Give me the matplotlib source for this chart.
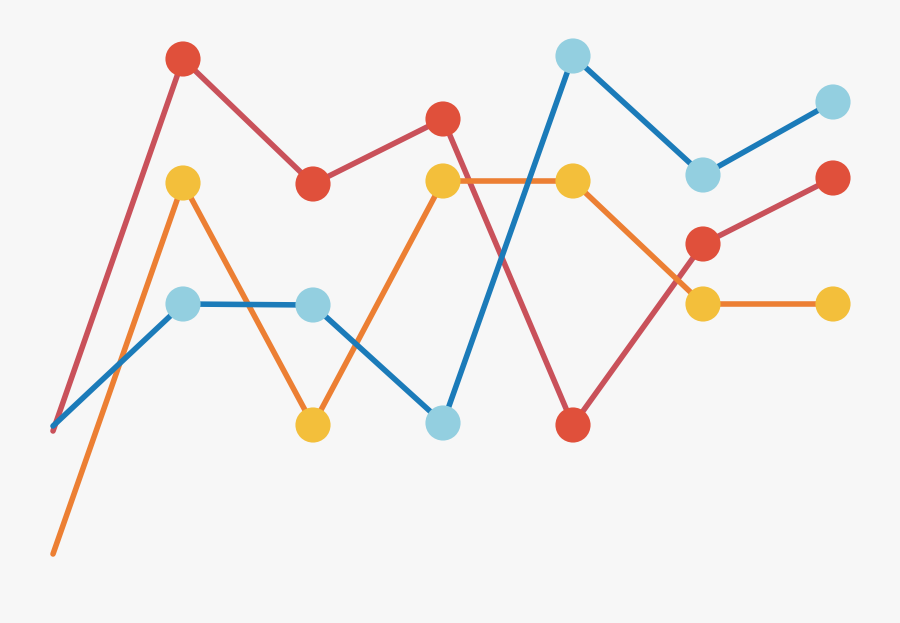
import matplotlib
matplotlib.use("Agg")
import matplotlib.pyplot as plt

# data
steps = [0, 1, 2, 3, 4, 5, 6]
red_vals = [192, 564, 439, 504, 198, 379, 445]
orange_vals = [69, 440, 198, 442, 442, 319, 319]
blue_vals = [197, 319, 318, 200, 567, 448, 521]

series = [
    (red_vals, "#c9515a", "#e0503b"),
    (orange_vals, "#ec7f33", "#f3bf3b"),
    (blue_vals, "#1b7bb9", "#93cfe0"),
]

fig = plt.figure(figsize=(9, 6.23), dpi=100, facecolor="#f7f7f7")
ax = fig.add_axes([0, 0, 1, 1])
ax.set_facecolor("#f7f7f7")

for z, (vals, line_c, dot_c) in enumerate(series):
    ax.plot(steps, vals, color=line_c, lw=4, solid_capstyle="round",
            solid_joinstyle="round", zorder=1 + z)
    ax.scatter(steps[1:], vals[1:], s=640, color=dot_c, edgecolors="none", zorder=10)

ax.set_xlim(-53 / 130, (900 - 53) / 130)
ax.set_ylim(0, 623)
ax.axis("off")

fig.savefig("out.png", dpi=100, facecolor=fig.get_facecolor())
